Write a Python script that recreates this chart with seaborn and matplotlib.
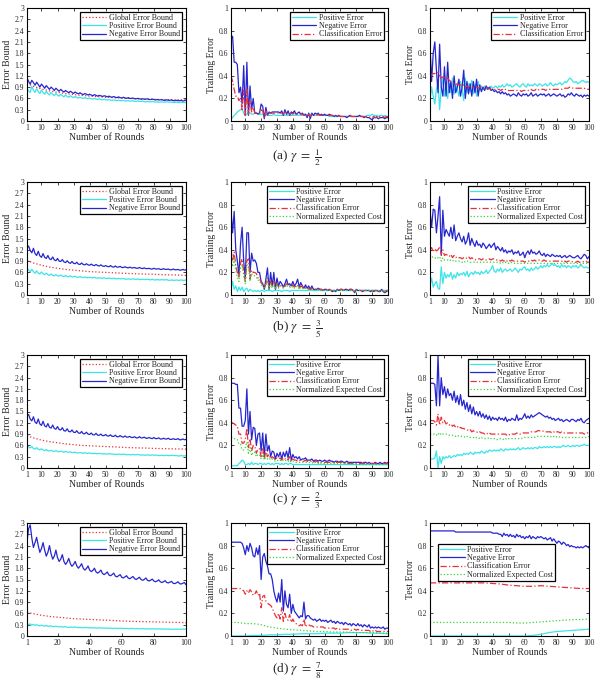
import numpy as np
import matplotlib
matplotlib.use('Agg')
import matplotlib.pyplot as plt
import seaborn as sns

# ---------------- data ----------------
rounds = np.arange(1, 101)
rounds5 = np.array([1, 5, 10, 15, 20, 25, 30, 35, 40, 45, 50, 55, 60, 65, 70, 75, 80, 85, 90, 95, 100])

# (a) gamma = 1/2 : error bounds
a_bound_global = [1.00, 0.92, 0.85, 0.80, 0.76, 0.73, 0.70, 0.68, 0.66, 0.645, 0.63, 0.62, 0.61, 0.60, 0.59, 0.58, 0.575, 0.57, 0.565, 0.56, 0.555]
a_bound_pos = [0.85, 0.80, 0.76, 0.92, 0.82, 0.76, 0.86, 0.78, 0.73, 0.82,
               0.76, 0.71, 0.79, 0.73, 0.69, 0.76, 0.71, 0.67, 0.73, 0.69,
               0.66, 0.71, 0.67, 0.64, 0.69, 0.65, 0.63, 0.67, 0.64, 0.62,
               0.65, 0.62, 0.61, 0.63, 0.61, 0.60, 0.62, 0.60, 0.59, 0.61,
               0.59, 0.58, 0.60, 0.58, 0.57, 0.59, 0.57, 0.56, 0.58, 0.56,
               0.56, 0.57, 0.55, 0.55, 0.56, 0.55, 0.54, 0.55, 0.54, 0.54,
               0.55, 0.53, 0.53, 0.54, 0.53, 0.53, 0.54, 0.52, 0.52, 0.53,
               0.52, 0.52, 0.53, 0.51, 0.51, 0.52, 0.51, 0.51, 0.52, 0.51,
               0.50, 0.51, 0.50, 0.50, 0.51, 0.50, 0.50, 0.51, 0.50, 0.50,
               0.50, 0.49, 0.49, 0.50, 0.49, 0.49, 0.50, 0.49, 0.49, 0.50]
a_bound_neg = [1.15, 1.05, 0.98, 1.08, 1.02, 0.95, 1.03, 0.97, 0.90, 0.98,
               0.93, 0.87, 0.94, 0.89, 0.84, 0.90, 0.86, 0.81, 0.87, 0.83,
               0.79, 0.84, 0.80, 0.77, 0.81, 0.78, 0.75, 0.79, 0.76, 0.73,
               0.77, 0.74, 0.72, 0.75, 0.72, 0.70, 0.73, 0.71, 0.69, 0.71,
               0.69, 0.67, 0.70, 0.68, 0.66, 0.68, 0.67, 0.65, 0.67, 0.66,
               0.64, 0.66, 0.64, 0.63, 0.65, 0.63, 0.62, 0.64, 0.62, 0.61,
               0.63, 0.61, 0.60, 0.62, 0.60, 0.60, 0.61, 0.59, 0.59, 0.60,
               0.59, 0.58, 0.59, 0.58, 0.58, 0.59, 0.57, 0.57, 0.58, 0.57,
               0.56, 0.57, 0.56, 0.56, 0.57, 0.55, 0.55, 0.56, 0.55, 0.55,
               0.56, 0.54, 0.54, 0.55, 0.54, 0.54, 0.55, 0.53, 0.54, 0.56]

# (a) training error
a_train_pos = [0.02, 0.03, 0.05, 0.06, 0.08, 0.09, 0.10, 0.11, 0.07, 0.05,
               0.06, 0.08, 0.07, 0.06, 0.06, 0.07, 0.07, 0.07, 0.06, 0.06,
               0.06, 0.04, 0.06, 0.05, 0.05, 0.05, 0.05, 0.06, 0.05, 0.05,
               0.05, 0.05, 0.05, 0.05, 0.05, 0.05, 0.05, 0.05, 0.05, 0.05,
               0.05, 0.05, 0.05, 0.05, 0.05, 0.05, 0.06, 0.06, 0.05, 0.05,
               0.06, 0.05, 0.05, 0.05, 0.05, 0.05, 0.05, 0.05, 0.05, 0.05,
               0.05, 0.05, 0.04, 0.04, 0.04, 0.04, 0.04, 0.04, 0.04, 0.04,
               0.04, 0.04, 0.04, 0.04, 0.04, 0.04, 0.04, 0.04, 0.04, 0.04,
               0.04, 0.04, 0.04, 0.04, 0.04, 0.04, 0.05, 0.05, 0.05, 0.06,
               0.05, 0.05, 0.05, 0.04, 0.05, 0.05, 0.04, 0.05, 0.04, 0.04]
a_train_neg = [0.72, 0.75, 0.52, 0.52, 0.50, 0.25, 0.30, 0.15, 0.49, 0.05,
               0.52, 0.05, 0.31, 0.10, 0.20, 0.07, 0.07, 0.06, 0.07, 0.15,
               0.13, 0.02, 0.12, 0.05, 0.08, 0.07, 0.08, 0.08, 0.08, 0.08,
               0.08, 0.07, 0.09, 0.05, 0.10, 0.06, 0.09, 0.05, 0.08, 0.07,
               0.09, 0.06, 0.07, 0.08, 0.06, 0.07, 0.05, 0.06, 0.03, 0.07,
               0.02, 0.07, 0.05, 0.07, 0.06, 0.07, 0.05, 0.06, 0.05, 0.06,
               0.05, 0.05, 0.06, 0.05, 0.05, 0.04, 0.05, 0.04, 0.05, 0.04,
               0.04, 0.04, 0.04, 0.03, 0.04, 0.05, 0.04, 0.04, 0.04, 0.04,
               0.04, 0.05, 0.04, 0.04, 0.03, 0.04, 0.03, 0.03, 0.02, 0.01,
               0.03, 0.03, 0.03, 0.02, 0.03, 0.03, 0.03, 0.02, 0.03, 0.03]
a_train_cls = [0.40, 0.35, 0.28, 0.22, 0.22, 0.18, 0.20, 0.10, 0.27, 0.05,
               0.28, 0.06, 0.18, 0.08, 0.12, 0.07, 0.07, 0.07, 0.07, 0.10,
               0.09, 0.03, 0.09, 0.05, 0.07, 0.07, 0.07, 0.07, 0.07, 0.07,
               0.07, 0.07, 0.07, 0.06, 0.08, 0.06, 0.07, 0.06, 0.07, 0.06,
               0.07, 0.06, 0.06, 0.07, 0.06, 0.06, 0.05, 0.06, 0.04, 0.06,
               0.04, 0.06, 0.05, 0.06, 0.05, 0.06, 0.05, 0.05, 0.05, 0.05,
               0.05, 0.05, 0.05, 0.05, 0.05, 0.04, 0.05, 0.04, 0.05, 0.04,
               0.04, 0.04, 0.04, 0.04, 0.04, 0.05, 0.04, 0.04, 0.04, 0.04,
               0.04, 0.05, 0.04, 0.04, 0.04, 0.04, 0.04, 0.04, 0.03, 0.03,
               0.04, 0.03, 0.04, 0.03, 0.04, 0.04, 0.04, 0.03, 0.04, 0.04]

# (a) test error
a_test_pos = [0.18, 0.30, 0.22, 0.15, 0.28, 0.35, 0.10, 0.30, 0.38, 0.22,
              0.35, 0.20, 0.33, 0.25, 0.38, 0.24, 0.32, 0.28, 0.22, 0.35,
              0.28, 0.18, 0.38, 0.25, 0.33, 0.26, 0.36, 0.24, 0.32, 0.22,
              0.35, 0.27, 0.31, 0.28, 0.31, 0.28, 0.30, 0.28, 0.31, 0.29,
              0.30, 0.31, 0.29, 0.31, 0.30, 0.32, 0.30, 0.31, 0.33, 0.31,
              0.32, 0.30, 0.31, 0.32, 0.33, 0.31, 0.30, 0.32, 0.33, 0.31,
              0.30, 0.33, 0.31, 0.32, 0.31, 0.33, 0.32, 0.31, 0.33, 0.32,
              0.31, 0.32, 0.33, 0.31, 0.32, 0.34, 0.32, 0.31, 0.33, 0.32,
              0.33, 0.34, 0.32, 0.33, 0.35, 0.34, 0.36, 0.38, 0.37, 0.35,
              0.34, 0.35, 0.33, 0.34, 0.35, 0.36, 0.35, 0.34, 0.35, 0.34]
a_test_neg = [0.67, 0.35, 0.60, 0.70, 0.45, 0.25, 0.68, 0.30, 0.22, 0.48,
              0.22, 0.52, 0.25, 0.35, 0.20, 0.40, 0.25, 0.30, 0.37, 0.22,
              0.30, 0.45, 0.20, 0.35, 0.24, 0.33, 0.22, 0.35, 0.25, 0.37,
              0.22, 0.32, 0.26, 0.30, 0.27, 0.31, 0.28, 0.30, 0.27, 0.28,
              0.26, 0.27, 0.25, 0.26, 0.24, 0.26, 0.24, 0.25, 0.23, 0.24,
              0.22, 0.23, 0.24, 0.23, 0.22, 0.25, 0.23, 0.22, 0.24, 0.23,
              0.24, 0.22, 0.23, 0.25, 0.22, 0.23, 0.24, 0.22, 0.23, 0.24,
              0.23, 0.24, 0.22, 0.23, 0.24, 0.22, 0.23, 0.24, 0.23, 0.22,
              0.23, 0.24, 0.22, 0.23, 0.21, 0.22, 0.24, 0.23, 0.25, 0.23,
              0.22, 0.24, 0.23, 0.22, 0.23, 0.21, 0.23, 0.22, 0.23, 0.22]
a_test_cls = [0.40, 0.41, 0.42, 0.42, 0.42, 0.43, 0.40, 0.38, 0.39, 0.40,
              0.37, 0.38, 0.36, 0.35, 0.34, 0.33, 0.32, 0.33, 0.32, 0.32,
              0.31, 0.32, 0.30, 0.31, 0.30, 0.31, 0.30, 0.30, 0.30, 0.30,
              0.29, 0.30, 0.29, 0.29, 0.29, 0.30, 0.29, 0.29, 0.28, 0.28,
              0.28, 0.28, 0.28, 0.28, 0.27, 0.28, 0.27, 0.28, 0.27, 0.27,
              0.27, 0.27, 0.27, 0.27, 0.27, 0.27, 0.27, 0.26, 0.27, 0.27,
              0.27, 0.27, 0.27, 0.28, 0.27, 0.27, 0.28, 0.27, 0.28, 0.28,
              0.28, 0.28, 0.27, 0.28, 0.28, 0.28, 0.28, 0.28, 0.28, 0.28,
              0.28, 0.28, 0.28, 0.29, 0.29, 0.29, 0.29, 0.30, 0.30, 0.29,
              0.29, 0.29, 0.29, 0.29, 0.29, 0.29, 0.29, 0.28, 0.28, 0.28]

# (b) gamma = 3/5 : error bounds
b_bound_global = [0.92, 0.85, 0.79, 0.74, 0.71, 0.68, 0.66, 0.64, 0.62, 0.61, 0.60, 0.59, 0.58, 0.57, 0.56, 0.555, 0.55, 0.54, 0.535, 0.53, 0.52]
b_bound_pos = [0.72, 0.66, 0.62, 0.68, 0.62, 0.58, 0.64, 0.58, 0.56, 0.61,
               0.56, 0.54, 0.58, 0.54, 0.52, 0.56, 0.52, 0.51, 0.54, 0.51,
               0.50, 0.53, 0.50, 0.49, 0.52, 0.49, 0.48, 0.51, 0.48, 0.48,
               0.50, 0.47, 0.47, 0.49, 0.47, 0.46, 0.48, 0.46, 0.46, 0.47,
               0.46, 0.45, 0.47, 0.45, 0.45, 0.46, 0.45, 0.44, 0.46, 0.44,
               0.44, 0.45, 0.44, 0.43, 0.45, 0.43, 0.43, 0.44, 0.43, 0.43,
               0.44, 0.42, 0.42, 0.43, 0.42, 0.42, 0.43, 0.42, 0.41, 0.43,
               0.41, 0.41, 0.42, 0.41, 0.41, 0.42, 0.41, 0.40, 0.42, 0.40,
               0.40, 0.41, 0.40, 0.40, 0.41, 0.40, 0.40, 0.41, 0.39, 0.39,
               0.40, 0.39, 0.39, 0.40, 0.39, 0.39, 0.40, 0.39, 0.39, 0.40]
b_bound_neg = [1.25, 1.30, 1.18, 1.12, 1.24, 1.10, 1.05, 1.16, 1.04, 1.00,
               1.10, 1.00, 0.97, 1.05, 0.96, 0.94, 1.01, 0.93, 0.91, 0.97,
               0.90, 0.89, 0.94, 0.88, 0.86, 0.91, 0.86, 0.84, 0.89, 0.84,
               0.83, 0.87, 0.82, 0.81, 0.85, 0.81, 0.80, 0.83, 0.80, 0.79,
               0.82, 0.79, 0.78, 0.81, 0.78, 0.77, 0.80, 0.77, 0.76, 0.78,
               0.76, 0.75, 0.78, 0.75, 0.74, 0.77, 0.74, 0.74, 0.76, 0.73,
               0.73, 0.75, 0.73, 0.72, 0.74, 0.72, 0.72, 0.73, 0.71, 0.71,
               0.73, 0.71, 0.70, 0.72, 0.70, 0.70, 0.71, 0.69, 0.69, 0.71,
               0.69, 0.69, 0.70, 0.68, 0.68, 0.70, 0.68, 0.68, 0.69, 0.67,
               0.67, 0.69, 0.67, 0.67, 0.68, 0.66, 0.66, 0.68, 0.66, 0.67]

# (b) training error
b_train_pos = [0.05, 0.12, 0.05, 0.08, 0.03, 0.07, 0.04, 0.07, 0.03, 0.05,
               0.06, 0.03, 0.05, 0.04, 0.03, 0.04, 0.03, 0.04, 0.03, 0.04,
               0.04, 0.03, 0.04, 0.04, 0.04, 0.04, 0.03, 0.04, 0.04, 0.04,
               0.04, 0.04, 0.03, 0.04, 0.04, 0.04, 0.04, 0.03, 0.04, 0.04,
               0.04, 0.04, 0.04, 0.04, 0.04, 0.04, 0.04, 0.04, 0.04, 0.04,
               0.04, 0.04, 0.04, 0.04, 0.04, 0.04, 0.04, 0.04, 0.04, 0.04,
               0.04, 0.04, 0.04, 0.04, 0.04, 0.04, 0.04, 0.04, 0.04, 0.04,
               0.04, 0.04, 0.04, 0.04, 0.04, 0.04, 0.04, 0.04, 0.04, 0.04,
               0.04, 0.04, 0.04, 0.04, 0.04, 0.04, 0.04, 0.04, 0.04, 0.04,
               0.04, 0.04, 0.04, 0.04, 0.04, 0.04, 0.04, 0.04, 0.04, 0.04]
b_train_neg = [0.75, 0.55, 0.74, 0.40, 0.30, 0.18, 0.45, 0.60, 0.30, 0.15,
               0.55, 0.55, 0.20, 0.37, 0.30, 0.31, 0.28, 0.20, 0.20, 0.12,
               0.10, 0.05, 0.14, 0.24, 0.05, 0.20, 0.08, 0.20, 0.05, 0.15,
               0.08, 0.12, 0.10, 0.07, 0.10, 0.14, 0.09, 0.10, 0.08, 0.12,
               0.08, 0.10, 0.14, 0.07, 0.11, 0.08, 0.06, 0.09, 0.06, 0.08,
               0.05, 0.08, 0.05, 0.05, 0.05, 0.06, 0.05, 0.05, 0.04, 0.05,
               0.05, 0.04, 0.05, 0.04, 0.03, 0.04, 0.03, 0.05, 0.04, 0.05,
               0.05, 0.04, 0.05, 0.05, 0.04, 0.05, 0.05, 0.04, 0.02, 0.05,
               0.04, 0.04, 0.04, 0.03, 0.04, 0.04, 0.04, 0.04, 0.03, 0.04,
               0.03, 0.04, 0.04, 0.03, 0.03, 0.05, 0.03, 0.02, 0.03, 0.04]
b_train_cls = [0.40, 0.30, 0.38, 0.26, 0.20, 0.15, 0.28, 0.32, 0.20, 0.12,
               0.30, 0.32, 0.14, 0.22, 0.20, 0.20, 0.19, 0.15, 0.15, 0.11,
               0.09, 0.06, 0.10, 0.15, 0.06, 0.12, 0.07, 0.12, 0.06, 0.10,
               0.07, 0.09, 0.08, 0.07, 0.08, 0.10, 0.08, 0.08, 0.07, 0.09,
               0.07, 0.08, 0.09, 0.06, 0.08, 0.07, 0.06, 0.07, 0.05, 0.06,
               0.05, 0.06, 0.05, 0.05, 0.05, 0.05, 0.05, 0.05, 0.04, 0.05,
               0.05, 0.04, 0.05, 0.04, 0.04, 0.04, 0.04, 0.05, 0.04, 0.05,
               0.05, 0.04, 0.05, 0.05, 0.04, 0.05, 0.05, 0.04, 0.03, 0.05,
               0.04, 0.04, 0.04, 0.04, 0.04, 0.04, 0.04, 0.04, 0.04, 0.04,
               0.04, 0.04, 0.04, 0.03, 0.04, 0.04, 0.03, 0.03, 0.04, 0.04]
b_train_nec = [0.33, 0.25, 0.32, 0.22, 0.16, 0.12, 0.24, 0.27, 0.17, 0.10,
               0.26, 0.27, 0.12, 0.19, 0.17, 0.17, 0.16, 0.13, 0.13, 0.09,
               0.08, 0.05, 0.09, 0.13, 0.05, 0.10, 0.06, 0.10, 0.05, 0.09,
               0.06, 0.08, 0.07, 0.06, 0.07, 0.09, 0.07, 0.07, 0.06, 0.08,
               0.06, 0.07, 0.08, 0.05, 0.07, 0.06, 0.05, 0.06, 0.05, 0.05,
               0.05, 0.05, 0.04, 0.04, 0.04, 0.05, 0.04, 0.04, 0.04, 0.04,
               0.04, 0.04, 0.04, 0.04, 0.04, 0.04, 0.04, 0.04, 0.04, 0.04,
               0.04, 0.04, 0.04, 0.04, 0.04, 0.04, 0.04, 0.04, 0.03, 0.04,
               0.04, 0.04, 0.04, 0.04, 0.04, 0.04, 0.04, 0.04, 0.04, 0.04,
               0.04, 0.04, 0.03, 0.03, 0.04, 0.04, 0.03, 0.03, 0.04, 0.04]

# (b) test error
b_test_pos = [0.08, 0.15, 0.07, 0.10, 0.12, 0.06, 0.05, 0.25, 0.10, 0.20,
              0.15, 0.18, 0.16, 0.20, 0.14, 0.18, 0.15, 0.20, 0.17, 0.19,
              0.18, 0.20, 0.17, 0.21, 0.16, 0.19, 0.20, 0.18, 0.21, 0.19,
              0.20, 0.18, 0.21, 0.19, 0.20, 0.22, 0.19, 0.21, 0.23, 0.26,
              0.21, 0.20, 0.23, 0.21, 0.24, 0.20, 0.22, 0.23, 0.21, 0.22,
              0.23, 0.21, 0.22, 0.24, 0.22, 0.20, 0.23, 0.22, 0.24, 0.25,
              0.22, 0.23, 0.21, 0.24, 0.22, 0.23, 0.25, 0.23, 0.24, 0.26,
              0.24, 0.26, 0.25, 0.27, 0.25, 0.26, 0.28, 0.26, 0.27, 0.25,
              0.26, 0.24, 0.27, 0.25, 0.26, 0.24, 0.26, 0.25, 0.24, 0.26,
              0.25, 0.26, 0.24, 0.25, 0.27, 0.25, 0.24, 0.25, 0.24, 0.24]
b_test_neg = [0.75, 0.60, 0.76, 0.75, 0.55, 0.70, 0.87, 0.35, 0.75, 0.52,
              0.58, 0.55, 0.52, 0.60, 0.50, 0.62, 0.48, 0.52, 0.55, 0.50,
              0.47, 0.52, 0.45, 0.48, 0.55, 0.44, 0.50, 0.46, 0.43, 0.48,
              0.44, 0.45, 0.42, 0.46, 0.44, 0.41, 0.43, 0.45, 0.42, 0.44,
              0.46, 0.40, 0.43, 0.41, 0.39, 0.42, 0.38, 0.40, 0.37, 0.39,
              0.38, 0.40, 0.36, 0.38, 0.37, 0.39, 0.35, 0.36, 0.38, 0.33,
              0.37, 0.39, 0.36, 0.40, 0.37, 0.38, 0.36, 0.37, 0.39, 0.36,
              0.35, 0.37, 0.34, 0.36, 0.35, 0.34, 0.36, 0.35, 0.34, 0.35,
              0.34, 0.35, 0.33, 0.34, 0.35, 0.33, 0.34, 0.35, 0.34, 0.33,
              0.33, 0.34, 0.35, 0.33, 0.32, 0.34, 0.36, 0.35, 0.32, 0.34]
b_test_cls = [0.40, 0.42, 0.38, 0.41, 0.39, 0.40, 0.43, 0.36, 0.40, 0.35,
              0.36, 0.35, 0.34, 0.36, 0.33, 0.35, 0.33, 0.34, 0.33, 0.33,
              0.32, 0.33, 0.32, 0.33, 0.34, 0.32, 0.33, 0.32, 0.31, 0.32,
              0.32, 0.32, 0.31, 0.32, 0.31, 0.31, 0.31, 0.32, 0.31, 0.32,
              0.32, 0.31, 0.31, 0.31, 0.30, 0.31, 0.30, 0.31, 0.30, 0.31,
              0.30, 0.31, 0.30, 0.30, 0.30, 0.30, 0.30, 0.30, 0.30, 0.29,
              0.30, 0.30, 0.30, 0.31, 0.30, 0.31, 0.30, 0.30, 0.31, 0.30,
              0.30, 0.31, 0.30, 0.30, 0.30, 0.30, 0.30, 0.30, 0.30, 0.30,
              0.30, 0.30, 0.30, 0.29, 0.30, 0.29, 0.30, 0.30, 0.30, 0.29,
              0.29, 0.29, 0.30, 0.29, 0.29, 0.29, 0.30, 0.30, 0.29, 0.29]
b_test_nec = [0.35, 0.33, 0.34, 0.33, 0.32, 0.33, 0.34, 0.30, 0.33, 0.31,
              0.31, 0.31, 0.30, 0.31, 0.30, 0.31, 0.30, 0.30, 0.30, 0.30,
              0.29, 0.30, 0.29, 0.30, 0.30, 0.29, 0.29, 0.29, 0.29, 0.29,
              0.29, 0.29, 0.29, 0.29, 0.29, 0.29, 0.29, 0.29, 0.29, 0.29,
              0.29, 0.29, 0.29, 0.29, 0.28, 0.29, 0.28, 0.29, 0.28, 0.28,
              0.28, 0.29, 0.28, 0.28, 0.28, 0.28, 0.28, 0.28, 0.28, 0.28,
              0.28, 0.28, 0.28, 0.28, 0.28, 0.28, 0.28, 0.28, 0.28, 0.28,
              0.28, 0.28, 0.28, 0.28, 0.28, 0.28, 0.28, 0.28, 0.28, 0.28,
              0.28, 0.28, 0.28, 0.28, 0.28, 0.28, 0.28, 0.28, 0.28, 0.28,
              0.28, 0.28, 0.28, 0.28, 0.27, 0.28, 0.28, 0.28, 0.28, 0.28]

# (c) gamma = 2/3 : error bounds
c_bound_global = [0.86, 0.80, 0.74, 0.70, 0.67, 0.64, 0.62, 0.60, 0.59, 0.58, 0.57, 0.56, 0.55, 0.54, 0.535, 0.53, 0.52, 0.515, 0.51, 0.505, 0.50]
c_bound_pos = [0.60, 0.56, 0.53, 0.57, 0.52, 0.50, 0.54, 0.50, 0.48, 0.51,
               0.48, 0.46, 0.49, 0.46, 0.45, 0.47, 0.45, 0.44, 0.46, 0.44,
               0.43, 0.45, 0.43, 0.42, 0.44, 0.42, 0.42, 0.43, 0.41, 0.41,
               0.42, 0.40, 0.40, 0.41, 0.40, 0.39, 0.41, 0.39, 0.39, 0.40,
               0.39, 0.38, 0.39, 0.38, 0.38, 0.39, 0.38, 0.37, 0.38, 0.37,
               0.37, 0.38, 0.37, 0.37, 0.37, 0.36, 0.36, 0.37, 0.36, 0.36,
               0.37, 0.36, 0.35, 0.36, 0.35, 0.35, 0.36, 0.35, 0.35, 0.36,
               0.35, 0.34, 0.35, 0.34, 0.34, 0.35, 0.34, 0.34, 0.35, 0.34,
               0.34, 0.34, 0.33, 0.33, 0.34, 0.33, 0.33, 0.34, 0.33, 0.33,
               0.34, 0.33, 0.33, 0.33, 0.32, 0.32, 0.33, 0.32, 0.32, 0.33]
c_bound_neg = [1.38, 1.42, 1.30, 1.25, 1.36, 1.22, 1.18, 1.30, 1.17, 1.13,
               1.24, 1.12, 1.09, 1.18, 1.08, 1.06, 1.14, 1.05, 1.03, 1.10,
               1.02, 1.01, 1.07, 0.99, 0.98, 1.04, 0.97, 0.96, 1.01, 0.95,
               0.94, 0.99, 0.93, 0.92, 0.97, 0.91, 0.91, 0.95, 0.90, 0.89,
               0.93, 0.88, 0.88, 0.92, 0.87, 0.87, 0.90, 0.86, 0.86, 0.89,
               0.85, 0.85, 0.88, 0.84, 0.84, 0.87, 0.83, 0.83, 0.86, 0.83,
               0.82, 0.85, 0.82, 0.82, 0.84, 0.81, 0.81, 0.83, 0.80, 0.80,
               0.83, 0.80, 0.80, 0.82, 0.79, 0.79, 0.81, 0.79, 0.78, 0.81,
               0.78, 0.78, 0.80, 0.77, 0.77, 0.79, 0.77, 0.77, 0.79, 0.76,
               0.76, 0.78, 0.76, 0.76, 0.78, 0.75, 0.75, 0.77, 0.75, 0.76]

# (c) training error
c_train_pos = [0.02, 0.02, 0.02, 0.02, 0.02, 0.04, 0.05, 0.07, 0.06, 0.03,
               0.03, 0.04, 0.03, 0.05, 0.03, 0.04, 0.04, 0.03, 0.04, 0.04,
               0.03, 0.04, 0.03, 0.04, 0.04, 0.03, 0.04, 0.03, 0.04, 0.04,
               0.04, 0.03, 0.04, 0.03, 0.04, 0.04, 0.03, 0.04, 0.04, 0.03,
               0.03, 0.03, 0.03, 0.03, 0.03, 0.03, 0.03, 0.03, 0.03, 0.03,
               0.03, 0.03, 0.03, 0.03, 0.03, 0.03, 0.03, 0.03, 0.03, 0.03,
               0.03, 0.03, 0.03, 0.03, 0.03, 0.03, 0.03, 0.03, 0.03, 0.03,
               0.03, 0.03, 0.03, 0.03, 0.03, 0.03, 0.03, 0.03, 0.03, 0.03,
               0.03, 0.03, 0.03, 0.03, 0.03, 0.03, 0.03, 0.03, 0.03, 0.03,
               0.03, 0.03, 0.03, 0.03, 0.03, 0.03, 0.03, 0.03, 0.03, 0.03]
c_train_neg = [0.75, 0.75, 0.75, 0.74, 0.74, 0.53, 0.53, 0.37, 0.37, 0.42,
               0.70, 0.30, 0.50, 0.25, 0.36, 0.35, 0.20, 0.30, 0.31, 0.15,
               0.31, 0.10, 0.30, 0.15, 0.20, 0.10, 0.15, 0.14, 0.08, 0.13,
               0.10, 0.14, 0.08, 0.14, 0.10, 0.15, 0.09, 0.18, 0.07, 0.12,
               0.09, 0.10, 0.08, 0.10, 0.07, 0.08, 0.08, 0.09, 0.07, 0.07,
               0.07, 0.08, 0.06, 0.07, 0.07, 0.06, 0.07, 0.06, 0.06, 0.07,
               0.06, 0.06, 0.07, 0.06, 0.06, 0.05, 0.06, 0.06, 0.05, 0.06,
               0.06, 0.05, 0.05, 0.06, 0.05, 0.05, 0.05, 0.05, 0.05, 0.05,
               0.05, 0.05, 0.05, 0.04, 0.05, 0.05, 0.04, 0.05, 0.04, 0.04,
               0.04, 0.05, 0.04, 0.04, 0.05, 0.04, 0.04, 0.05, 0.04, 0.05]
c_train_cls = [0.40, 0.40, 0.39, 0.38, 0.37, 0.30, 0.30, 0.22, 0.22, 0.25,
               0.35, 0.18, 0.26, 0.15, 0.20, 0.19, 0.13, 0.17, 0.17, 0.10,
               0.17, 0.08, 0.16, 0.10, 0.12, 0.08, 0.10, 0.09, 0.07, 0.09,
               0.08, 0.09, 0.07, 0.09, 0.08, 0.09, 0.07, 0.10, 0.06, 0.08,
               0.07, 0.07, 0.06, 0.07, 0.06, 0.06, 0.06, 0.07, 0.06, 0.06,
               0.06, 0.06, 0.05, 0.06, 0.06, 0.05, 0.06, 0.05, 0.05, 0.05,
               0.05, 0.05, 0.05, 0.05, 0.05, 0.05, 0.05, 0.05, 0.05, 0.05,
               0.05, 0.04, 0.04, 0.05, 0.04, 0.04, 0.04, 0.04, 0.04, 0.04,
               0.04, 0.04, 0.04, 0.04, 0.04, 0.04, 0.04, 0.04, 0.04, 0.04,
               0.04, 0.04, 0.04, 0.04, 0.04, 0.04, 0.04, 0.04, 0.04, 0.04]
c_train_nec = [0.27, 0.27, 0.26, 0.26, 0.25, 0.21, 0.21, 0.16, 0.16, 0.18,
               0.23, 0.13, 0.18, 0.11, 0.14, 0.14, 0.10, 0.12, 0.12, 0.08,
               0.12, 0.07, 0.11, 0.08, 0.09, 0.07, 0.08, 0.07, 0.06, 0.07,
               0.06, 0.07, 0.06, 0.07, 0.06, 0.07, 0.06, 0.07, 0.05, 0.06,
               0.05, 0.05, 0.05, 0.05, 0.05, 0.05, 0.05, 0.05, 0.05, 0.05,
               0.05, 0.05, 0.04, 0.05, 0.05, 0.04, 0.05, 0.04, 0.04, 0.04,
               0.04, 0.04, 0.04, 0.04, 0.04, 0.04, 0.04, 0.04, 0.04, 0.04,
               0.04, 0.04, 0.04, 0.04, 0.04, 0.04, 0.03, 0.04, 0.03, 0.03,
               0.03, 0.03, 0.03, 0.03, 0.03, 0.03, 0.03, 0.03, 0.03, 0.03,
               0.03, 0.03, 0.03, 0.03, 0.03, 0.03, 0.03, 0.03, 0.03, 0.03]

# (c) test error
c_test_pos = [0.08, 0.08, 0.08, 0.09, 0.15, 0.00, 0.10, 0.04, 0.10, 0.08,
              0.10, 0.09, 0.11, 0.09, 0.10, 0.11, 0.10, 0.12, 0.11, 0.12,
              0.11, 0.13, 0.12, 0.13, 0.12, 0.14, 0.13, 0.12, 0.14, 0.13,
              0.14, 0.13, 0.15, 0.14, 0.13, 0.15, 0.14, 0.16, 0.15, 0.15,
              0.16, 0.15, 0.16, 0.15, 0.17, 0.16, 0.15, 0.17, 0.16, 0.16,
              0.17, 0.16, 0.17, 0.16, 0.17, 0.18, 0.16, 0.17, 0.18, 0.17,
              0.17, 0.18, 0.17, 0.18, 0.17, 0.18, 0.18, 0.17, 0.19, 0.18,
              0.18, 0.19, 0.18, 0.19, 0.18, 0.19, 0.18, 0.19, 0.19, 0.18,
              0.19, 0.18, 0.19, 0.20, 0.19, 0.19, 0.20, 0.19, 0.19, 0.20,
              0.19, 0.20, 0.20, 0.19, 0.20, 0.20, 0.21, 0.20, 0.20, 0.20]
c_test_neg = [0.75, 0.75, 0.75, 0.74, 0.55, 1.00, 0.55, 0.80, 0.65, 0.72,
              0.62, 0.70, 0.64, 0.66, 0.60, 0.68, 0.58, 0.64, 0.56, 0.65,
              0.55, 0.60, 0.52, 0.58, 0.50, 0.56, 0.48, 0.54, 0.47, 0.50,
              0.46, 0.50, 0.45, 0.48, 0.44, 0.47, 0.43, 0.46, 0.42, 0.45,
              0.43, 0.44, 0.42, 0.45, 0.43, 0.44, 0.42, 0.45, 0.41, 0.43,
              0.42, 0.44, 0.43, 0.42, 0.47, 0.42, 0.44, 0.43, 0.45, 0.48,
              0.44, 0.46, 0.44, 0.47, 0.45, 0.46, 0.47, 0.48, 0.49, 0.48,
              0.47, 0.46, 0.45, 0.46, 0.44, 0.45, 0.43, 0.44, 0.42, 0.43,
              0.44, 0.42, 0.43, 0.41, 0.42, 0.43, 0.42, 0.41, 0.43, 0.43,
              0.42, 0.41, 0.43, 0.42, 0.44, 0.41, 0.40, 0.42, 0.43, 0.44]
c_test_cls = [0.42, 0.42, 0.42, 0.41, 0.38, 0.48, 0.38, 0.45, 0.40, 0.42,
              0.39, 0.40, 0.38, 0.39, 0.37, 0.38, 0.36, 0.37, 0.35, 0.36,
              0.35, 0.35, 0.34, 0.34, 0.33, 0.34, 0.32, 0.33, 0.32, 0.32,
              0.31, 0.32, 0.31, 0.31, 0.30, 0.31, 0.30, 0.31, 0.30, 0.30,
              0.30, 0.30, 0.30, 0.30, 0.30, 0.30, 0.30, 0.30, 0.29, 0.30,
              0.29, 0.30, 0.30, 0.30, 0.31, 0.30, 0.30, 0.30, 0.31, 0.31,
              0.31, 0.31, 0.31, 0.32, 0.32, 0.32, 0.32, 0.33, 0.33, 0.33,
              0.33, 0.32, 0.32, 0.32, 0.32, 0.32, 0.31, 0.32, 0.31, 0.32,
              0.32, 0.31, 0.32, 0.31, 0.31, 0.31, 0.31, 0.31, 0.31, 0.31,
              0.31, 0.31, 0.31, 0.31, 0.31, 0.31, 0.30, 0.31, 0.31, 0.32]
c_test_nec = [0.30, 0.30, 0.30, 0.30, 0.29, 0.31, 0.29, 0.31, 0.30, 0.30,
              0.30, 0.30, 0.29, 0.29, 0.29, 0.29, 0.28, 0.29, 0.28, 0.28,
              0.28, 0.28, 0.27, 0.28, 0.27, 0.27, 0.27, 0.27, 0.26, 0.27,
              0.27, 0.26, 0.27, 0.26, 0.26, 0.26, 0.26, 0.27, 0.26, 0.26,
              0.26, 0.26, 0.25, 0.26, 0.26, 0.26, 0.25, 0.26, 0.25, 0.26,
              0.26, 0.26, 0.26, 0.26, 0.26, 0.26, 0.26, 0.26, 0.27, 0.27,
              0.27, 0.27, 0.27, 0.27, 0.27, 0.27, 0.28, 0.28, 0.28, 0.28,
              0.28, 0.28, 0.28, 0.28, 0.28, 0.28, 0.27, 0.28, 0.27, 0.28,
              0.28, 0.27, 0.27, 0.27, 0.27, 0.27, 0.27, 0.27, 0.27, 0.27,
              0.27, 0.27, 0.27, 0.27, 0.27, 0.27, 0.27, 0.27, 0.27, 0.28]

# (d) gamma = 7/8 : error bounds
d_bound_global = [0.63, 0.59, 0.55, 0.52, 0.50, 0.48, 0.46, 0.45, 0.44, 0.43, 0.42, 0.41, 0.40, 0.39, 0.385, 0.38, 0.375, 0.37, 0.365, 0.36, 0.355]
d_bound_pos = [0.33, 0.30, 0.32, 0.29, 0.31, 0.28, 0.30, 0.28, 0.27, 0.29,
               0.27, 0.26, 0.28, 0.26, 0.26, 0.27, 0.25, 0.25, 0.26, 0.25,
               0.24, 0.25, 0.24, 0.24, 0.25, 0.23, 0.23, 0.24, 0.23, 0.23,
               0.24, 0.23, 0.22, 0.23, 0.22, 0.22, 0.23, 0.22, 0.22, 0.22,
               0.22, 0.21, 0.22, 0.21, 0.21, 0.22, 0.21, 0.21, 0.21, 0.21,
               0.21, 0.20, 0.21, 0.20, 0.20, 0.21, 0.20, 0.20, 0.21, 0.20,
               0.20, 0.20, 0.20, 0.20, 0.19, 0.20, 0.20, 0.19, 0.19, 0.20,
               0.19, 0.19, 0.20, 0.19, 0.19, 0.19, 0.19, 0.19, 0.19, 0.19,
               0.19, 0.18, 0.19, 0.19, 0.18, 0.19, 0.18, 0.18, 0.19, 0.18,
               0.18, 0.18, 0.18, 0.18, 0.18, 0.18, 0.18, 0.18, 0.18, 0.18]
d_bound_neg = [2.50, 2.85, 2.95, 2.60, 2.35, 2.48, 2.62, 2.40, 2.22, 2.32,
               2.48, 2.28, 2.12, 2.22, 2.40, 2.18, 2.04, 2.12, 2.28, 2.08,
               1.98, 2.04, 2.16, 1.98, 1.90, 1.96, 2.06, 1.92, 1.85, 1.90,
               1.98, 1.86, 1.80, 1.85, 1.92, 1.80, 1.75, 1.79, 1.86, 1.75,
               1.71, 1.74, 1.80, 1.70, 1.67, 1.70, 1.75, 1.66, 1.63, 1.66,
               1.70, 1.62, 1.60, 1.63, 1.67, 1.59, 1.57, 1.60, 1.63, 1.56,
               1.54, 1.57, 1.60, 1.54, 1.52, 1.55, 1.58, 1.52, 1.50, 1.53,
               1.56, 1.50, 1.48, 1.50, 1.54, 1.48, 1.46, 1.48, 1.51, 1.46,
               1.44, 1.46, 1.49, 1.44, 1.42, 1.44, 1.47, 1.42, 1.41, 1.43,
               1.45, 1.40, 1.39, 1.41, 1.44, 1.39, 1.38, 1.40, 1.42, 1.36]

# (d) training error
d_train_pos = [0.00, 0.00, 0.00, 0.005, 0.005, 0.01, 0.01, 0.015, 0.015, 0.02, 0.02, 0.02, 0.025, 0.025, 0.025, 0.03, 0.03, 0.03, 0.025, 0.025, 0.02]
d_train_neg = [0.83, 0.83, 0.83, 0.83, 0.83, 0.83, 0.83, 0.82, 0.78, 0.72,
               0.80, 0.75, 0.82, 0.78, 0.71, 0.70, 0.78, 0.72, 0.80, 0.50,
               0.70, 0.73, 0.66, 0.62, 0.55, 0.55, 0.50, 0.40, 0.34, 0.30,
               0.38, 0.30, 0.50, 0.22, 0.40, 0.28, 0.25, 0.37, 0.20, 0.28,
               0.22, 0.20, 0.18, 0.16, 0.18, 0.17, 0.30, 0.15, 0.18, 0.18,
               0.16, 0.15, 0.14, 0.15, 0.13, 0.14, 0.15, 0.13, 0.14, 0.13,
               0.14, 0.12, 0.13, 0.14, 0.12, 0.13, 0.11, 0.13, 0.12, 0.11,
               0.12, 0.10, 0.12, 0.11, 0.10, 0.11, 0.09, 0.11, 0.10, 0.09,
               0.11, 0.09, 0.10, 0.08, 0.10, 0.09, 0.08, 0.10, 0.07, 0.08,
               0.07, 0.08, 0.07, 0.08, 0.07, 0.07, 0.08, 0.06, 0.07, 0.07]
d_train_cls = [0.42, 0.42, 0.42, 0.42, 0.42, 0.42, 0.42, 0.41, 0.40, 0.37,
               0.40, 0.38, 0.41, 0.39, 0.36, 0.37, 0.40, 0.36, 0.38, 0.25,
               0.35, 0.36, 0.31, 0.29, 0.28, 0.27, 0.25, 0.21, 0.18, 0.16,
               0.20, 0.15, 0.25, 0.13, 0.20, 0.15, 0.14, 0.19, 0.12, 0.15,
               0.12, 0.11, 0.10, 0.09, 0.10, 0.09, 0.15, 0.08, 0.10, 0.10,
               0.09, 0.09, 0.08, 0.08, 0.08, 0.08, 0.08, 0.08, 0.08, 0.07,
               0.07, 0.07, 0.07, 0.07, 0.07, 0.07, 0.06, 0.07, 0.06, 0.06,
               0.06, 0.06, 0.06, 0.06, 0.06, 0.06, 0.05, 0.06, 0.06, 0.05,
               0.06, 0.05, 0.05, 0.05, 0.05, 0.05, 0.05, 0.05, 0.04, 0.05,
               0.04, 0.05, 0.04, 0.04, 0.04, 0.04, 0.04, 0.04, 0.04, 0.04]
d_train_nec = [0.12, 0.12, 0.11, 0.11, 0.10, 0.08, 0.07, 0.06, 0.055, 0.05, 0.045, 0.04, 0.04, 0.035, 0.035, 0.035, 0.03, 0.03, 0.03, 0.025, 0.025]

# (d) test error
d_test_pos = [0.0, 0.0, 0.0, 0.0, 0.0, 0.0, 0.0, 0.0, 0.0, 0.0, 0.0, 0.0, 0.0, 0.005, 0.015, 0.03, 0.04, 0.045, 0.05, 0.055, 0.06]
d_test_neg = [0.93, 0.93, 0.93, 0.93, 0.93, 0.93, 0.93, 0.93, 0.93, 0.93,
              0.93, 0.93, 0.93, 0.93, 0.93, 0.93, 0.92, 0.92, 0.92, 0.92,
              0.92, 0.92, 0.92, 0.92, 0.92, 0.92, 0.92, 0.92, 0.92, 0.92,
              0.92, 0.92, 0.92, 0.92, 0.92, 0.92, 0.92, 0.92, 0.92, 0.91,
              0.91, 0.91, 0.91, 0.90, 0.90, 0.88, 0.91, 0.89, 0.90, 0.88,
              0.90, 0.88, 0.89, 0.87, 0.90, 0.88, 0.89, 0.87, 0.88, 0.86,
              0.88, 0.87, 0.89, 0.86, 0.88, 0.87, 0.86, 0.88, 0.87, 0.88,
              0.87, 0.86, 0.87, 0.85, 0.86, 0.87, 0.84, 0.86, 0.84, 0.82,
              0.84, 0.83, 0.81, 0.83, 0.82, 0.80, 0.81, 0.79, 0.80, 0.79,
              0.79, 0.78, 0.79, 0.78, 0.79, 0.78, 0.79, 0.80, 0.79, 0.78]
d_test_cls = [0.47, 0.47, 0.47, 0.47, 0.47, 0.47, 0.47, 0.47, 0.465, 0.46, 0.45, 0.445, 0.44, 0.44, 0.445, 0.44, 0.435, 0.43, 0.425, 0.42, 0.42]
d_test_nec = [0.12, 0.12, 0.12, 0.12, 0.12, 0.12, 0.12, 0.12, 0.12, 0.12, 0.12, 0.115, 0.115, 0.12, 0.125, 0.13, 0.135, 0.14, 0.145, 0.145, 0.15]

# labels
bound_labels = ['Global Error Bound', 'Positive Error Bound', 'Negative Error Bound']
err_labels = ['Positive Error', 'Negative Error', 'Classification Error', 'Normalized Expected Cost']
captions = [r'(a) $\gamma\ =\ \frac{1}{2}$', r'(b) $\gamma\ =\ \frac{3}{5}$',
            r'(c) $\gamma\ =\ \frac{2}{3}$', r'(d) $\gamma\ =\ \frac{7}{8}$']
x_ticks_main = [1, 10, 20, 30, 40, 50, 60, 70, 80, 90, 100]
x_ticks_d1 = [1, 20, 40, 60, 80, 100]
bound_ticks = [0, 0.3, 0.6, 0.9, 1.2, 1.5, 1.8, 2.1, 2.4, 2.7, 3]
bound_ticklabels = ['0', '0.3', '0.6', '0.9', '1.2', '1.5', '1.8', '2.1', '2.4', '2.7', '3']
err_ticks = [0, 0.2, 0.4, 0.6, 0.8, 1]
err_ticklabels = ['0', '0.2', '0.4', '0.6', '0.8', '1']

# ---------------- style ----------------
sns.set_style('ticks')
plt.rcParams['font.family'] = ['Liberation Serif', 'DejaVu Serif']
plt.rcParams['mathtext.fontset'] = 'stix'

STY = {
    'glob': dict(color='#E8303A', linestyle=':', linewidth=0.9),
    'pos': dict(color='#3BE4E8', linestyle='-', linewidth=0.9),
    'neg': dict(color='#2626CF', linestyle='-', linewidth=0.9),
    'cls': dict(color='#E8303A', linestyle=(0, (5, 1.8, 1, 1.8)), linewidth=0.9),
    'nec': dict(color='#33D633', linestyle=':', linewidth=0.9),
}

W, H = 598, 682
fig = plt.figure(figsize=(W / 100, H / 100), dpi=100)


def add_ax(left, top, width, height):
    return fig.add_axes([left / W, 1 - (top + height) / H, width / W, height / H])


def panel(ax, series, ylabel, ymax, yticks, yticklabels, xticks, legend_loc='upper right', anchor=None):
    for lab, x, y, key in series:
        sns.lineplot(x=x, y=y, ax=ax, label=lab, estimator=None, sort=False, **STY[key])
    ax.set_xlim(1, 100)
    ax.set_ylim(0, ymax)
    ax.set_xticks(xticks)
    ax.set_xticklabels([str(t) for t in xticks])
    ax.set_yticks(yticks)
    ax.set_yticklabels(yticklabels)
    ax.tick_params(direction='in', length=2.5, width=0.6, labelsize=5.5, pad=2,
                   top=True, right=True, bottom=True, left=True)
    for sp in ax.spines.values():
        sp.set_visible(True)
        sp.set_linewidth(0.8)
        sp.set_color('black')
    ax.set_xlabel('Number of Rounds', fontsize=7, labelpad=1.0)
    ax.set_ylabel(ylabel, fontsize=7, labelpad=2)
    kw = dict(loc=legend_loc, fontsize=5.8, frameon=True, fancybox=False, framealpha=1,
              edgecolor='black', handlelength=3.0, labelspacing=0.05, borderpad=0.25,
              handletextpad=0.35, borderaxespad=0.45)
    if anchor is not None:
        kw['bbox_to_anchor'] = anchor
    leg = ax.legend(**kw)
    leg.get_frame().set_linewidth(0.9)


lefts = [27, 231, 430]
widths = [159, 157, 159]
tops = [8, 182, 355, 523]
height = 113
cap_y = [158, 329, 501, 671]

rows = [
    dict(bound=(a_bound_global, a_bound_pos, a_bound_neg),
         train=(a_train_pos, a_train_neg, a_train_cls, None),
         test=(a_test_pos, a_test_neg, a_test_cls, None)),
    dict(bound=(b_bound_global, b_bound_pos, b_bound_neg),
         train=(b_train_pos, b_train_neg, b_train_cls, b_train_nec),
         test=(b_test_pos, b_test_neg, b_test_cls, b_test_nec)),
    dict(bound=(c_bound_global, c_bound_pos, c_bound_neg),
         train=(c_train_pos, c_train_neg, c_train_cls, c_train_nec),
         test=(c_test_pos, c_test_neg, c_test_cls, c_test_nec)),
    dict(bound=(d_bound_global, d_bound_pos, d_bound_neg),
         train=(d_train_pos, d_train_neg, d_train_cls, d_train_nec),
         test=(d_test_pos, d_test_neg, d_test_cls, d_test_nec)),
]


def xs(arr):
    return rounds5 if len(arr) == len(rounds5) else rounds


for r, row in enumerate(rows):
    ax = add_ax(lefts[0], tops[r], widths[0], height)
    g, p, n = row['bound']
    panel(ax, [(bound_labels[0], xs(g), g, 'glob'),
               (bound_labels[1], xs(p), p, 'pos'),
               (bound_labels[2], xs(n), n, 'neg')],
          'Error Bound', 3, bound_ticks, bound_ticklabels,
          x_ticks_d1 if r == 3 else x_ticks_main)
    for c, key, ylabel in [(1, 'train', 'Training Error'), (2, 'test', 'Test Error')]:
        ax = add_ax(lefts[c], tops[r], widths[c], height)
        p, n, cl, ne = row[key]
        ser = [(err_labels[0], xs(p), p, 'pos'),
               (err_labels[1], xs(n), n, 'neg'),
               (err_labels[2], xs(cl), cl, 'cls')]
        if ne is not None:
            ser.append((err_labels[3], xs(ne), ne, 'nec'))
        if r == 3 and c == 2:
            panel(ax, ser, ylabel, 1, err_ticks, err_ticklabels, x_ticks_main,
                  legend_loc='upper left', anchor=(0.03, 0.85))
        else:
            panel(ax, ser, ylabel, 1, err_ticks, err_ticklabels, x_ticks_main)
    fig.text(297 / W, 1 - cap_y[r] / H, captions[r], ha='center', va='center', fontsize=9.5)

fig.savefig('out.png', dpi=100)
